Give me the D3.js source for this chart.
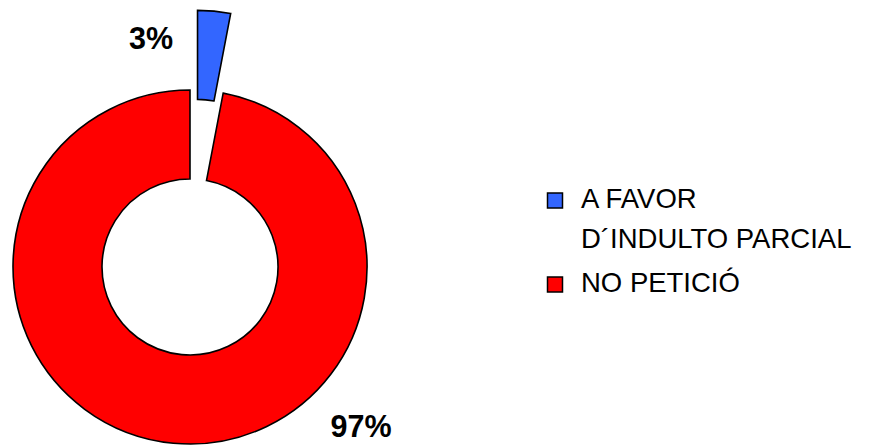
<!DOCTYPE html>
<html>
<head>
<meta charset="utf-8">
<script src="https://cdn.jsdelivr.net/npm/d3@7"></script>
<style>
  html, body { margin: 0; padding: 0; background: #fff; }
  svg { display: block; }
</style>
</head>
<body>
<svg id="chart" width="877" height="446"></svg>
<script>
// ---- data ----
const categories = ["A FAVOR D\u00B4INDULTO PARCIAL", "NO PETICI\u00D3"];
const legendLines = [["A FAVOR", "D\u00B4INDULTO PARCIAL"], ["NO PETICI\u00D3"]];
const values = [3, 97];
const valueLabels = ["3%", "97%"];
const colors = ["#3366FF", "#FF0000"];
const exploded = [true, false];

// ---- layout ----
const svg = d3.select("#chart");
const cx = 190, cy = 267;
const outerR = 177, innerR = 88;
const explodeDist = 80;

const pie = d3.pie().sort(null).value(d => d).startAngle(0).endAngle(2 * Math.PI);
const arcs = pie(values);
const arc = d3.arc().innerRadius(innerR).outerRadius(outerR);

const g = svg.append("g").attr("transform", `translate(${cx},${cy})`);

g.selectAll("path.slice")
  .data(arcs)
  .join("path")
  .attr("class", "slice")
  .attr("d", arc)
  .attr("fill", (d, i) => colors[i])
  .attr("stroke", "#000")
  .attr("stroke-width", 1.6)
  .attr("stroke-linejoin", "miter")
  .attr("transform", (d, i) => {
    if (!exploded[i]) return null;
    const m = (d.startAngle + d.endAngle) / 2;
    return `translate(${explodeDist * Math.sin(m)},${-explodeDist * Math.cos(m)})`;
  });

// value labels
const labelPos = [[-39, -218], [171, 170]];
g.selectAll("text.val")
  .data(arcs)
  .join("text")
  .attr("class", "val")
  .attr("x", (d, i) => labelPos[i][0])
  .attr("y", (d, i) => labelPos[i][1])
  .attr("text-anchor", "middle")
  .attr("font-family", "Liberation Sans, Arial, sans-serif")
  .attr("font-weight", "bold")
  .attr("font-size", 30.5)
  .attr("fill", "#000")
  .text((d, i) => valueLabels[i]);

// legend
const legend = svg.append("g").attr("transform", "translate(547,0)");
const itemY = [208, 292];
const lineH = 40;
categories.forEach((c, i) => {
  const it = legend.append("g");
  it.append("rect")
    .attr("x", 0.5)
    .attr("y", itemY[i] - 15)
    .attr("width", 15)
    .attr("height", 15)
    .attr("fill", colors[i])
    .attr("stroke", "#000")
    .attr("stroke-width", 1.5);
  const t = it.append("text")
    .attr("font-family", "Liberation Sans, Arial, sans-serif")
    .attr("font-size", 27.5)
    .attr("fill", "#000");
  legendLines[i].forEach((ln, j) => {
    t.append("tspan")
      .attr("x", 34)
      .attr("y", itemY[i] + j * lineH)
      .text(ln);
  });
});
</script>
</body>
</html>
